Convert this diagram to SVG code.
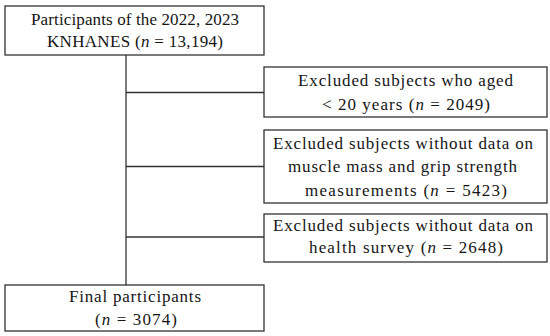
<svg xmlns="http://www.w3.org/2000/svg" width="550" height="336" viewBox="0 0 550 336">
<style>
.box{fill:#fff;stroke:#333;stroke-width:1.3}
.ln{fill:none;stroke:#333;stroke-width:1.3}
text{font-family:"Liberation Serif","Times New Roman",serif;font-size:17px;fill:#151515;text-anchor:middle}
.i{font-style:italic}
</style>
<rect width="550" height="336" fill="#fff"/>
<g id="connectors">
<line class="ln" x1="126" y1="55" x2="126" y2="285"/>
<line class="ln" x1="126" y1="92.5" x2="264" y2="92.5"/>
<line class="ln" x1="126" y1="166.5" x2="264" y2="166.5"/>
<line class="ln" x1="126" y1="237" x2="264" y2="237"/>
</g>
<g id="start">
<rect class="box" x="5" y="6" width="259" height="49"/>
<text x="135" y="25" textLength="208" lengthAdjust="spacing">Participants of the 2022, 2023</text>
<text x="135" y="47" textLength="176" lengthAdjust="spacing">KNHANES (<tspan class="i">n</tspan> = 13,194)</text>
</g>
<g id="excl1">
<rect class="box" x="264" y="67" width="283" height="50"/>
<text x="405.5" y="86" textLength="215" lengthAdjust="spacing">Excluded subjects who aged</text>
<text x="406" y="110" textLength="168" lengthAdjust="spacing">&lt; 20 years (<tspan class="i">n</tspan>  = 2049)</text>
</g>
<g id="excl2">
<rect class="box" x="264" y="130" width="283" height="73"/>
<text x="403" y="149" textLength="260" lengthAdjust="spacing">Excluded subjects without data on</text>
<text x="402.5" y="172" textLength="229" lengthAdjust="spacing">muscle mass and grip strength</text>
<text x="406" y="196" textLength="202" lengthAdjust="spacing">measurements  (<tspan class="i">n</tspan>  = 5423)</text>
</g>
<g id="excl3">
<rect class="box" x="264" y="214" width="283" height="48"/>
<text x="403" y="231" textLength="260" lengthAdjust="spacing">Excluded subjects without data on</text>
<text x="406" y="253" textLength="194" lengthAdjust="spacing">health survey  (<tspan class="i">n</tspan>  = 2648)</text>
</g>
<g id="final">
<rect class="box" x="5" y="285" width="259" height="46"/>
<text x="135" y="302" textLength="132" lengthAdjust="spacing">Final participants</text>
<text x="136" y="325" textLength="82" lengthAdjust="spacing">(<tspan class="i">n</tspan>  = 3074)</text>
</g>
</svg>
